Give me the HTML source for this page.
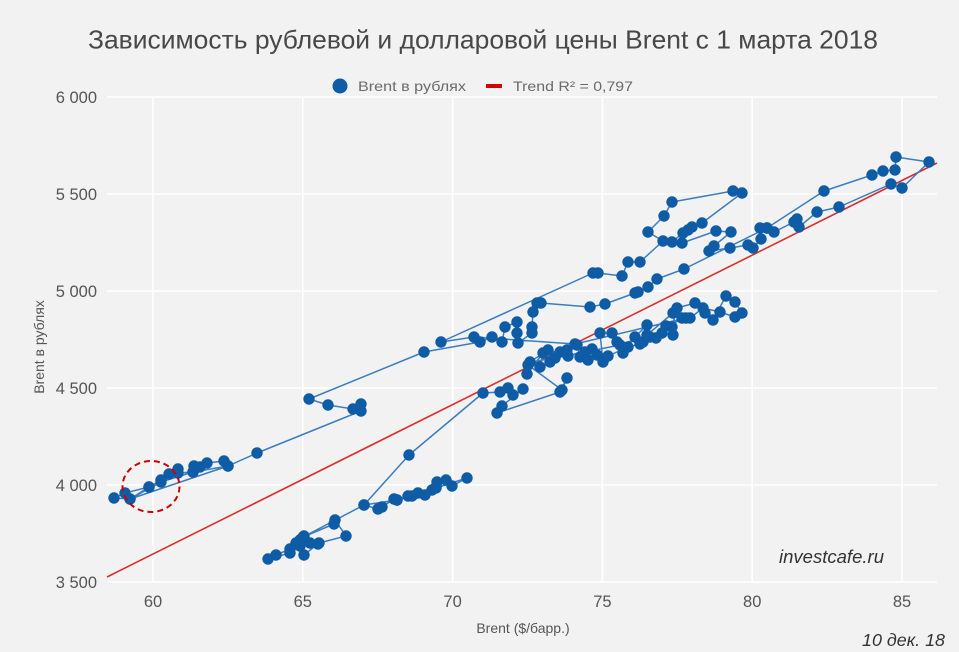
<!DOCTYPE html>
<html><head><meta charset="utf-8"><style>
html,body{margin:0;padding:0;background:#f2f2f2;}
svg{display:block;font-family:"Liberation Sans","DejaVu Sans",sans-serif;}
</style></head><body>
<svg width="959" height="652" viewBox="0 0 959 652" xmlns="http://www.w3.org/2000/svg">
<rect x="0" y="0" width="959" height="652" fill="#f2f2f2"/>
<text x="88" y="48.5" font-size="26" fill="#484848" textLength="790" lengthAdjust="spacingAndGlyphs">Зависимость рублевой и долларовой цены Brent с 1 марта 2018</text>
<circle cx="340" cy="86" r="7.5" fill="#0e5ba6"/>
<text x="358" y="91" font-size="14" fill="#6a6a6a" textLength="108" lengthAdjust="spacingAndGlyphs">Brent в рублях</text>
<rect x="486" y="84" width="16" height="4" fill="#d40000"/>
<text x="513" y="91" font-size="14" fill="#6a6a6a" textLength="120" lengthAdjust="spacingAndGlyphs">Trend R² = 0,797</text>
<g stroke="#ffffff" stroke-width="1.6">
<line x1="107" y1="97" x2="937" y2="97"/>
<line x1="107" y1="194" x2="937" y2="194"/>
<line x1="107" y1="291" x2="937" y2="291"/>
<line x1="107" y1="388" x2="937" y2="388"/>
<line x1="107" y1="485" x2="937" y2="485"/>
<line x1="107" y1="582" x2="937" y2="582"/>
<line x1="153" y1="97" x2="153" y2="582"/>
<line x1="302.8" y1="97" x2="302.8" y2="582"/>
<line x1="452.6" y1="97" x2="452.6" y2="582"/>
<line x1="602.4" y1="97" x2="602.4" y2="582"/>
<line x1="752.2" y1="97" x2="752.2" y2="582"/>
<line x1="902" y1="97" x2="902" y2="582"/>
</g>
<g font-size="16.5" fill="#555" text-anchor="end">
<text x="97" y="103">6 000</text>
<text x="97" y="200">5 500</text>
<text x="97" y="297">5 000</text>
<text x="97" y="394">4 500</text>
<text x="97" y="491">4 000</text>
<text x="97" y="588">3 500</text>
</g>
<g font-size="16.5" fill="#555" text-anchor="middle">
<text x="153" y="607">60</text>
<text x="302.8" y="607">65</text>
<text x="452.6" y="607">70</text>
<text x="602.4" y="607">75</text>
<text x="752.2" y="607">80</text>
<text x="902" y="607">85</text>
</g>
<text x="523" y="633" font-size="14" fill="#555" text-anchor="middle">Brent ($/барр.)</text>
<text transform="translate(44,347) rotate(-90)" font-size="14" fill="#555" text-anchor="middle">Brent в рублях</text>
<line x1="107" y1="577" x2="937" y2="163" stroke="#d9302c" stroke-width="1.6"/>
<polyline fill="none" stroke="#3b7dbf" stroke-width="1.5" stroke-linejoin="round" points="
318,544 310,543 304,536 300,540 296,543 290,549 276,555 268,559 290,553 300,546 304,555 319,543 346,536 335,520 334,524 303,537 364,505 378,509 382,507 394,499 397,500 408,496 412,496 418,493 425,495 432,490 436,487 437,482 446,480 452,486 467,478 436,488 397,500 364,505 409,455 483,393
500,392 508,388 513,395 523,389 502,406 497,413 560,392 567,378 562,390 528,365 527,374 543,353 540,367 550,362 560,352 567,350 577,345 580,357 588,360 597,355 603,362 600,333 612,333 617,342 623,353 635,337 647,325 650,337 643,342 662,333 673,335 672,327 677,308 695,303 705,313 713,320 726,296 735,302 742,313 735,317 720,312 703,308 690,318 682,318 673,313 647,335 620,345 585,352 555,358 530,362 548,350 568,356 592,349 608,356 628,347 640,344 656,338 666,326 686,318 575,344 474,337 441,342
593,273 598,273 622,276 628,262 640,262 663,241 648,232 664,216 672,202 733,191 742,193 702,223 692,227 688,230 683,233 672,242 682,243 716,231 731,232 714,246 709,251 730,248 748,245 753,248 761,239 760,228 767,228 774,232 794,222 797,219 799,227 817,212 839,207 891,184 902,188 929,162 896,157 895,170 883,171 872,175 824,191 767,228
684,269 657,279 648,287 638,292 635,293 605,304 590,307 541,303 537,303 533,312 532,327 532,333 518,343 517,333 517,322 505,327 502,342 492,337 480,342 424,352 309,399 328,405 353,409 361,404 361,411 257,453 228,466 130,499 114,498 125,493 149,487 161,480 169,474 178,469 178,473 193,472 194,466 200,467 207,463 224,461 228,466 193,472 161,482 130,499 149,487"/>
<g fill="#0e5ba6" id="dots"></g>
<ellipse cx="151" cy="486.5" rx="28.5" ry="25.5" fill="none" stroke="#cc0000" stroke-width="2" stroke-dasharray="6 4"/>
<text x="779" y="563" font-size="18" font-style="italic" fill="#333" textLength="105" lengthAdjust="spacingAndGlyphs">investcafe.ru</text>
<text x="862" y="646" font-size="17.5" font-style="italic" fill="#333" textLength="83" lengthAdjust="spacingAndGlyphs">10 дек. 18</text>
</svg>
<script>
(function(){
var pts=document.querySelector('polyline').getAttribute('points').trim().split(/\s+/);
var g=document.getElementById('dots');var ns='http://www.w3.org/2000/svg';
pts.forEach(function(p){var a=p.split(',');var c=document.createElementNS(ns,'circle');c.setAttribute('cx',a[0]);c.setAttribute('cy',a[1]);c.setAttribute('r','5.7');g.appendChild(c);});
})();
</script>
</body></html>
